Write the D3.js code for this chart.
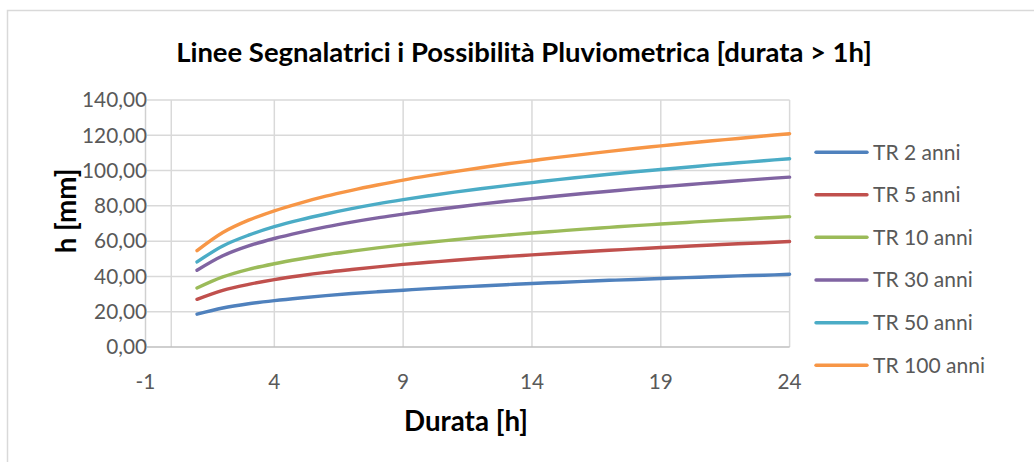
<!DOCTYPE html>
<html><head><meta charset="utf-8">
<script src="https://cdn.jsdelivr.net/npm/d3@7"></script>
<style>html,body{margin:0;padding:0;background:#fff;}svg{display:block;}</style>
</head><body>
<svg id="chart" width="1034" height="462"></svg>
<script>
const durations = [1,2,3,4,5,6,7,8,9,10,11,12,13,14,15,16,17,18,19,20,21,22,23,24];
const seriesNames = ["TR 2 anni","TR 5 anni","TR 10 anni","TR 30 anni","TR 50 anni","TR 100 anni"];
const tr2   = [18.6,22.1,24.5,26.3,27.8,29.1,30.3,31.3,32.2,33.1,33.9,34.6,35.3,36.0,36.6,37.2,37.8,38.3,38.8,39.3,39.8,40.3,40.7,41.2];
const tr5   = [27.0,32.1,35.5,38.2,40.4,42.3,43.9,45.4,46.8,48.0,49.2,50.3,51.3,52.2,53.1,54.0,54.8,55.6,56.4,57.1,57.8,58.5,59.1,59.8];
const tr10  = [33.4,39.7,44.0,47.2,49.9,52.3,54.3,56.2,57.9,59.4,60.8,62.2,63.4,64.6,65.7,66.8,67.8,68.8,69.7,70.6,71.5,72.3,73.1,73.9];
const tr30  = [43.5,51.7,57.3,61.5,65.0,68.1,70.8,73.2,75.3,77.4,79.2,81.0,82.6,84.1,85.6,87.0,88.3,89.6,90.8,92.0,93.1,94.2,95.3,96.3];
const tr50  = [48.2,57.3,63.4,68.2,72.1,75.4,78.4,81.1,83.5,85.7,87.8,89.7,91.5,93.2,94.9,96.4,97.9,99.3,100.6,101.9,103.2,104.4,105.6,106.7];
const tr100 = [54.6,64.9,71.9,77.2,81.6,85.5,88.8,91.8,94.6,97.1,99.4,101.6,103.7,105.6,107.5,109.2,110.9,112.5,114.0,115.5,116.9,118.2,119.6,120.9];
const seriesValues = [tr2,tr5,tr10,tr30,tr50,tr100];
const colors = ["#4F81BD","#C0504D","#9BBB59","#8064A2","#4BACC6","#F79646"];
const xTicks = [-1,4,9,14,19,24];
const xGrid = [0,4,9,14,19,24];
const yTicks = [0,20,40,60,80,100,120,140];
const yTickLabels = ["0,00","20,00","40,00","60,00","80,00","100,00","120,00","140,00"];
const title = "Linee Segnalatrici i Possibilità Pluviometrica [durata > 1h]";
const xTitle = "Durata [h]";
const yTitle = "h [mm]";

const FONT = "Lato, 'Open Sans', sans-serif";
const svg = d3.select("#chart");

// chart border
svg.append("rect").attr("x",7.5).attr("y",10.5).attr("width",1040).attr("height",470)
  .attr("fill","#fff").attr("stroke","#d9d9d9").attr("stroke-width",1.5);

const x = d3.scaleLinear().domain([-1,24]).range([145.5,789.6]);
const y = d3.scaleLinear().domain([0,140]).range([347,100]);

function fit(sel, w){
  const n = sel.node(); const fs = parseFloat(sel.attr("font-size"));
  const cur = n.getComputedTextLength();
  sel.attr("font-size", fs * w / cur);
}

// horizontal gridlines
svg.append("g").selectAll("line").data(yTicks.filter(d=>d>0)).join("line")
  .attr("x1",147).attr("x2",x(24)).attr("y1",d=>y(d)).attr("y2",d=>y(d))
  .attr("stroke","#d9d9d9").attr("stroke-width",1.5);
// vertical gridlines
svg.append("g").selectAll("line").data(xGrid).join("line")
  .attr("x1",d=>x(d)).attr("x2",d=>x(d)).attr("y1",y(140)).attr("y2",y(0))
  .attr("stroke","#d9d9d9").attr("stroke-width",1.5);
// axis lines
svg.append("line").attr("x1",x(-1)).attr("x2",x(-1)).attr("y1",y(140)).attr("y2",y(0))
  .attr("stroke","#d0d0d0").attr("stroke-width",1.5);
svg.append("line").attr("x1",147).attr("x2",x(24)).attr("y1",y(0)).attr("y2",y(0))
  .attr("stroke","#bfbfbf").attr("stroke-width",1.5);

// y tick labels
const yl = svg.append("g").selectAll("text").data(yTicks).join("text")
  .attr("x",147).attr("y",d=>y(d)).attr("dy","0.35em").attr("text-anchor","end")
  .attr("font-family",FONT).attr("font-size",20).attr("fill","#595959")
  .text((d,i)=>yTickLabels[i]);
{
  const n = yl.nodes()[yTicks.indexOf(140)];
  const fs = 20*65/n.getComputedTextLength();
  yl.attr("font-size",fs);
}
// x tick labels
svg.append("g").selectAll("text").data(xTicks).join("text")
  .attr("x",d=>x(d)).attr("y",382).attr("dy","0.35em").attr("text-anchor","middle")
  .attr("font-family",FONT).attr("font-size",yl.attr("font-size")).attr("fill","#595959")
  .text(d=>d);

// series
const line = d3.line().x((d,i)=>x(durations[i])).y(d=>y(d)).curve(d3.curveCatmullRom);
svg.append("g").selectAll("path").data(seriesValues).join("path")
  .attr("d",line).attr("fill","none").attr("stroke",(d,i)=>colors[i])
  .attr("stroke-width",3.4).attr("stroke-linecap","round").attr("stroke-linejoin","round");

// title
const t = svg.append("text").attr("x",524).attr("y",52).attr("dy","0.35em")
  .attr("text-anchor","middle").attr("font-family",FONT).attr("font-weight","bold")
  .attr("font-size",20).attr("fill","#000").text(title);
fit(t,696);
// axis titles
const xt = svg.append("text").attr("x",466).attr("y",421).attr("dy","0.35em")
  .attr("text-anchor","middle").attr("font-family",FONT).attr("font-weight","bold")
  .attr("font-size",22).attr("fill","#000").text(xTitle);
fit(xt,124);
const yt = svg.append("text").attr("transform","translate(66,211) rotate(-90)").attr("dy","0.35em")
  .attr("text-anchor","middle").attr("font-family",FONT).attr("font-weight","bold")
  .attr("font-size",xt.attr("font-size")).attr("fill","#000").text(yTitle);

// legend
const legY = [152.3,194.7,237.3,280,322.7,365.3];
const lg = svg.append("g").selectAll("g").data(seriesNames).join("g");
lg.append("line").attr("x1",816).attr("x2",867).attr("y1",(d,i)=>legY[i]).attr("y2",(d,i)=>legY[i])
  .attr("stroke",(d,i)=>colors[i]).attr("stroke-width",3.4).attr("stroke-linecap","round");
const lt = lg.append("text").attr("x",873).attr("y",(d,i)=>legY[i]).attr("dy","0.35em")
  .attr("font-family",FONT).attr("font-size",20).attr("fill","#595959").text(d=>d);
{
  const n = lt.nodes()[5];
  lt.attr("font-size",20*112/n.getComputedTextLength());
}
</script>
</body></html>
